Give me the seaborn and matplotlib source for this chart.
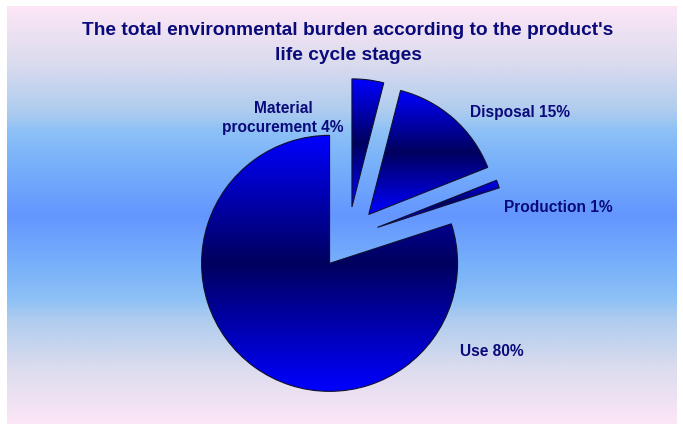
import numpy as np
import matplotlib
matplotlib.use("Agg")
import matplotlib.pyplot as plt
from matplotlib.colors import LinearSegmentedColormap
import seaborn as sns

# ---------------------------------------------
# DATA
# ---------------------------------------------
stages = ["Material\nprocurement", "Disposal", "Production", "Use"]
shares = [4, 15, 1, 80]
label_texts = [f"{s} {v}%" for s, v in zip(stages, shares)]
title = "The total environmental burden according to the product's\nlife cycle stages"

# ---------------------------------------------
# STYLE
# ---------------------------------------------
sns.set_theme(style="white")
plt.rcParams["font.family"] = ["Liberation Sans", "DejaVu Sans"]
NAVY = "#0A0A7A"

W, H = 683, 428
fig = plt.figure(figsize=(W / 100, H / 100), dpi=100)
fig.patch.set_facecolor("white")

# background panel with vertical gradient
bg_cmap = LinearSegmentedColormap.from_list(
    "bg",
    [(0.0, "#FCE6F6"), (0.13, "#DCDCEE"), (0.25, "#AECCEE"), (0.30, "#8CC0F6"),
     (0.38, "#78B0FA"), (0.5, "#6496FF"), (0.62, "#78B0FA"), (0.70, "#8CC0F6"),
     (0.75, "#AECCEE"), (0.87, "#DCDCEE"), (1.0, "#FCE6F6")])
bg = fig.add_axes([7 / W, 4 / H, 670 / W, 418 / H])
bg.imshow(np.linspace(0, 1, 400).reshape(-1, 1), cmap=bg_cmap, aspect="auto")
bg.set_axis_off()

# pie axes covering the whole figure, 1 unit = 128 px
R = 128.0
cx, cy = 348.0, 238.0
ax = fig.add_axes([0, 0, 1, 1])
ax.patch.set_alpha(0)
ax.set_axis_off()

wedges, _ = ax.pie(shares, startangle=90, counterclock=False,
                   explode=[0.245] * len(shares), radius=1,
                   wedgeprops=dict(edgecolor="#101030", linewidth=0.8))

wedge_cmap = sns.blend_palette(["#0000FF", "#00005E", "#0000FF"], as_cmap=True)
grad = np.linspace(0, 1, 256).reshape(-1, 1)
for w in wedges:
    ext = w.get_path().get_extents()
    w.set_facecolor("none")
    w.set_zorder(3)
    im = ax.imshow(grad, cmap=wedge_cmap, aspect="auto", origin="lower",
                   extent=(ext.x0, ext.x1, ext.y0, ext.y1), zorder=2)
    im.set_clip_path(w)

ax.set_xlim(-cx / R, (W - cx) / R)
ax.set_ylim(-(H - cy) / R, cy / R)


def px(x, y):
    return (x - cx) / R, (cy - y) / R


label_pos = [(283, 118), (520, 113), (558, 208), (492, 352)]
for txt, (lx, ly) in zip(label_texts, label_pos):
    ax.text(*px(lx, ly), txt, ha="center", va="center", fontsize=11.2,
            fontweight="bold", color=NAVY, linespacing=1.4, zorder=5)

fig.text(348 / W, 1 - 43 / H, title, ha="center", va="center",
         fontsize=13.8, fontweight="bold", color=NAVY, linespacing=1.6)

plt.savefig("out.png", dpi=100, facecolor="white")
